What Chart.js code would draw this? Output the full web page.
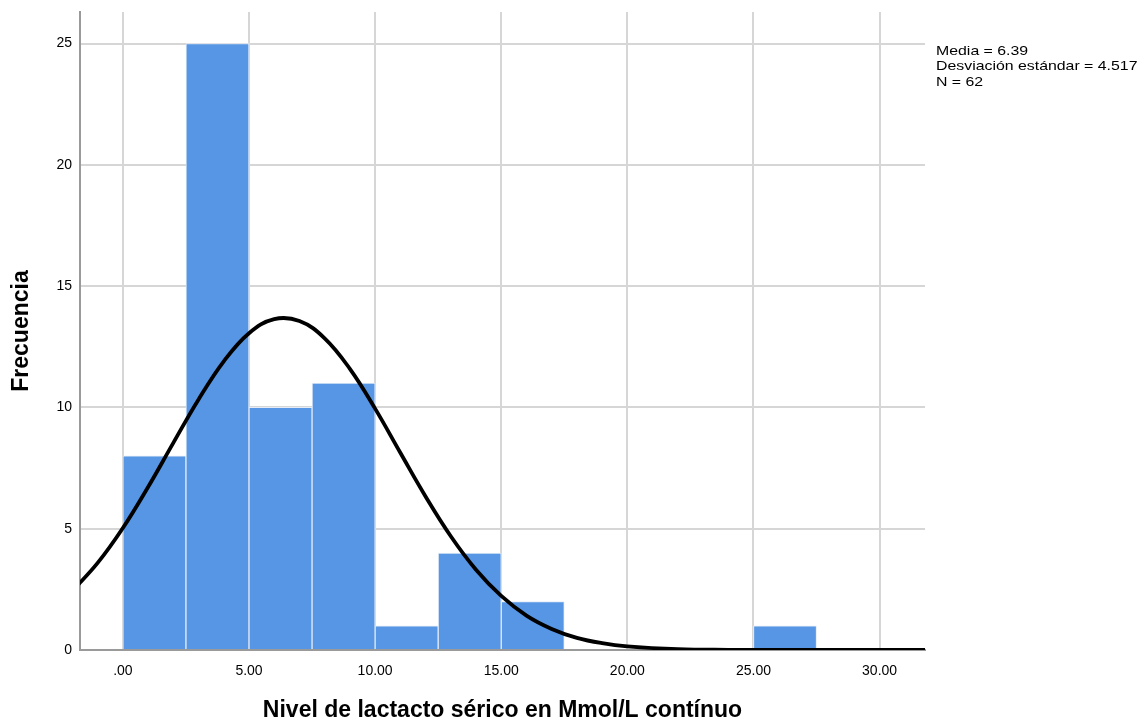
<!DOCTYPE html>
<html>
<head>
<meta charset="utf-8">
<script src="https://cdn.jsdelivr.net/npm/chart.js@4.4.1/dist/chart.umd.min.js"></script>
<style>
    html, body { margin: 0; padding: 0; background: #fff; }
    #wrap { width: 1145px; height: 723px; }
</style>
</head>
<body>
<div id="wrap"><canvas id="histChart"></canvas></div>
<script>
// histogram bins (centre of each 2.5-wide bin) and counts
const binCenters = [1.25, 3.75, 6.25, 8.75, 11.25, 13.75, 16.25, 18.75, 21.25, 23.75, 26.25];
const binCounts = [8, 25, 10, 11, 1, 4, 2, 0, 0, 0, 1];

// normal curve
const curveX = [-2, -1, 0, 1, 2, 3, 4, 5, 6, 7, 8, 9, 10, 11, 12, 13, 14, 15, 16, 17, 18, 19, 20, 22, 24, 26, 28, 30, 32];
const curveY = [2.44, 3.59, 5.03, 6.72, 8.54, 10.33, 11.9, 13.06, 13.64, 13.56, 12.85, 11.59, 9.95, 8.13, 6.33, 4.69, 3.31, 2.23, 1.42, 0.87, 0.5, 0.28, 0.15, 0.035, 0.006, 0, 0, 0, 0];

const xTicks = [0, 5, 10, 15, 20, 25, 30];
const yTicks = [0, 5, 10, 15, 20, 25];
const statsLines = ["Media = 6.39", "Desviación estándar = 4.517", "N = 62"];

const FONT = "'Liberation Sans', Arial, sans-serif";

// stats text at top right (SPSS text is a bit wider, so stretch it)
const statsText = {
    id: "statsText",
    afterDraw(chart) {
        const ctx = chart.ctx;
        ctx.save();
        ctx.fillStyle = "#000";
        ctx.font = "13px " + FONT;
        ctx.textBaseline = "middle";
        ctx.translate(936, 0);
        ctx.scale(1.22, 1);
        statsLines.forEach((line, i) => {
            ctx.fillText(line, 0, 51 + i * 15.5);
        });
        ctx.restore();
    },
};

const ctx = document.getElementById("histChart").getContext("2d");
new Chart(ctx, {
    type: "bar",
    data: {
        datasets: [
            {
                type: "line",
                data: curveX.map((x, i) => ({ x: x, y: curveY[i] })),
                borderColor: "#000",
                borderWidth: 3.8,
                pointRadius: 0,
                tension: 0.4,
                fill: false,
                order: 0,
            },
            {
                type: "bar",
                data: binCenters.map((x, i) => ({ x: x, y: binCounts[i] })),
                backgroundColor: "#5696e4",
                borderColor: "#e4ecf7",
                borderWidth: 1,
                barPercentage: 1,
                categoryPercentage: 1,
                order: 1,
            },
        ],
    },
    options: {
        responsive: true,
        maintainAspectRatio: false,
        animation: false,
        layout: { padding: { top: 12, right: 220, left: 0, bottom: 0 } },
        plugins: {
            legend: { display: false },
            tooltip: { enabled: false },
        },
        scales: {
            x: {
                type: "linear",
                offset: false,
                min: -1.7,
                max: 31.8,
                afterBuildTicks: (s) => { s.ticks = xTicks.map((v) => ({ value: v })); },
                afterFit: (s) => { s.height = 73; s.paddingLeft = 0; s.paddingRight = 0; },
                ticks: {
                    color: "#000",
                    padding: 13,
                    font: { family: FONT, size: 14 },
                    callback: (v) => (v === 0 ? ".00" : v.toFixed(2)),
                },
                grid: { offset: false, color: "#d6d6d6", lineWidth: 2, drawTicks: false },
                border: { color: "#9a9a9a", width: 2 },
                title: {
                    display: true,
                    text: "Nivel de lactacto sérico en Mmol/L contínuo",
                    color: "#000",
                    font: { family: FONT, size: 23, weight: "bold", lineHeight: 1.1 },
                    padding: { top: 0, bottom: 0 },
                },
            },
            y: {
                min: 0,
                max: 26.3,
                afterBuildTicks: (s) => { s.ticks = yTicks.map((v) => ({ value: v })); },
                afterFit: (s) => { s.width = 80; s.paddingTop = 0; s.paddingBottom = 0; },
                ticks: {
                    color: "#000",
                    padding: 8,
                    font: { family: FONT, size: 14 },
                },
                grid: { color: "#d6d6d6", lineWidth: 2, drawTicks: false },
                border: { color: "#9a9a9a", width: 2 },
                title: {
                    display: true,
                    text: "Frecuencia",
                    color: "#000",
                    font: { family: FONT, size: 23, weight: "bold" },
                    padding: { top: 8, bottom: 0 },
                },
            },
        },
    },
    plugins: [statsText],
});
</script>
</body>
</html>
